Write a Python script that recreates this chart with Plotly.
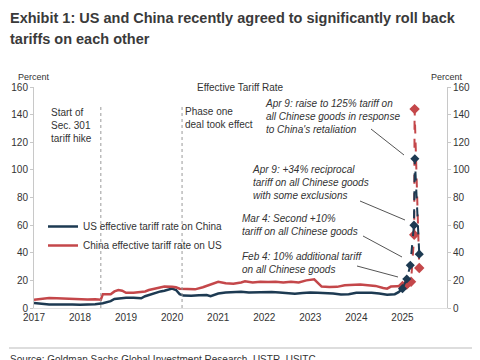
import plotly.graph_objects as go

# ---------------- data ----------------
us_dates = ["2017-01-01","2017-03-01","2017-05-01","2017-07-01","2017-09-01","2017-11-01",
            "2018-01-01","2018-03-01","2018-05-01","2018-07-01","2018-08-01","2018-09-01","2018-10-01","2018-11-01",
            "2019-01-01","2019-03-01","2019-05-01","2019-06-01","2019-07-01","2019-09-01","2019-10-01","2019-11-01",
            "2020-01-01","2020-02-01","2020-03-01","2020-04-01","2020-06-01","2020-08-01","2020-10-01","2020-11-01",
            "2021-01-01","2021-03-01","2021-05-01","2021-07-01","2021-09-01","2021-11-01",
            "2022-01-01","2022-03-01","2022-05-01","2022-07-01","2022-09-01","2022-11-01",
            "2023-01-01","2023-03-01","2023-05-01","2023-07-01","2023-09-01","2023-11-01",
            "2024-01-01","2024-03-01","2024-05-01","2024-07-01","2024-09-01","2024-11-01","2024-12-01","2025-01-01"]
us_rate = [3.6,3.0,2.5,2.6,2.7,2.5,
           2.3,2.5,2.8,3.5,4.0,5.0,6.5,7.0,
           7.5,7.5,7.0,8.5,9.5,11.5,12.0,12.5,
           14.0,13.0,10.0,9.0,8.8,9.3,9.4,8.5,
           10.5,11.2,11.5,11.8,11.3,11.5,
           11.8,11.5,11.3,11.0,10.4,10.8,
           11.3,11.0,10.8,10.5,9.8,10.0,
           11.0,11.2,11.0,10.5,9.6,10.0,11.5,14.0]

cn_dates = ["2017-01-01","2017-03-01","2017-05-01","2017-07-01","2017-09-01","2017-11-01",
            "2018-01-01","2018-03-01","2018-05-01","2018-06-15","2018-07-01","2018-08-01","2018-09-01","2018-10-01","2018-11-01","2018-12-01",
            "2019-01-01","2019-03-01","2019-05-01","2019-06-01","2019-07-01","2019-09-01","2019-10-01","2019-11-01",
            "2020-01-01","2020-02-01","2020-03-01","2020-05-01","2020-07-01","2020-09-01","2020-11-01",
            "2021-01-01","2021-03-01","2021-05-01","2021-07-01","2021-08-01","2021-10-01","2021-12-01",
            "2022-02-01","2022-04-01","2022-06-01","2022-08-01","2022-10-01","2022-12-01",
            "2023-02-01","2023-03-01","2023-04-01","2023-06-01","2023-08-01","2023-10-01","2023-12-01",
            "2024-02-01","2024-04-01","2024-06-01","2024-08-01","2024-09-01","2024-10-01","2024-12-01","2025-01-01"]
cn_rate = [6.0,6.8,7.2,7.0,6.8,6.5,
           6.0,6.2,6.3,6.0,10.0,10.2,10.0,12.0,13.0,12.5,
           11.0,11.0,11.5,12.0,13.0,14.0,14.5,15.5,
           15.3,15.0,14.0,13.8,13.5,15.0,17.0,
           19.0,18.0,17.5,18.5,19.3,18.5,19.0,
           18.8,19.0,18.5,19.0,18.5,20.0,
           20.8,18.5,15.5,15.2,15.3,16.5,17.0,
           17.0,16.5,16.0,14.5,14.0,15.5,15.5,16.0]

# 2025 escalation (dashed with markers)
us_tail_dates = ["2025-01-01","2025-02-04","2025-03-04","2025-04-02","2025-04-09","2025-05-14"]
us_tail_rate = [14.0,21.0,31.0,60.0,108.0,39.0]
cn_tail_dates = ["2025-01-01","2025-02-04","2025-02-12","2025-03-10","2025-04-04","2025-04-07","2025-05-14"]
cn_tail_rate = [16.0,17.0,18.0,19.0,53.0,144.0,29.0]

event_dates = ["2018-06-15", "2020-03-20"]

NAVY = "#1d3a52"
RED = "#c4474a"
FONT = "Liberation Sans, Arial, sans-serif"
TXT = "#333333"

# plot area in screen pixels (page body has an 8px margin)
OFF = 8
L, R, T, B = 34, 447, 87, 308
def px(x):
    return (x - L) / (R - L)
def py(y):
    return (B - y) / (B - T)

fig = go.Figure()
fig.add_trace(go.Scatter(x=us_dates, y=us_rate, mode="lines", name="US effective tariff rate on China",
                         line=dict(color=NAVY, width=2.5)))
fig.add_trace(go.Scatter(x=cn_dates, y=cn_rate, mode="lines", name="China effective tariff rate on US",
                         line=dict(color=RED, width=2.5)))
fig.add_trace(go.Scatter(x=cn_tail_dates, y=cn_tail_rate, mode="lines+markers", showlegend=False,
                         line=dict(color=RED, width=2, dash="dash"),
                         marker=dict(symbol="diamond", size=8, color=RED)))
fig.add_trace(go.Scatter(x=us_tail_dates, y=us_tail_rate, mode="lines+markers", showlegend=False,
                         line=dict(color=NAVY, width=2, dash="dash"),
                         marker=dict(symbol="diamond", size=7, color=NAVY)))
# right axis (mirror)
fig.add_trace(go.Scatter(x=[us_dates[0]], y=[0], yaxis="y2", mode="markers", showlegend=False,
                         marker=dict(opacity=0), hoverinfo="skip"))

shapes = []
for d in event_dates:
    shapes.append(dict(type="line", xref="x", yref="paper", x0=d, x1=d, y0=0, y1=py(104),
                       line=dict(color="#9a9a9a", width=1, dash="dot")))

leaders = [((371, 129), (404, 155)), ((360, 201), (405, 220)),
           ((363, 236), (402, 257)), ((357, 266), (398, 277))]
for (x0, y0), (x1, y1) in leaders:
    shapes.append(dict(type="line", xref="paper", yref="paper", x0=px(x0), y0=py(y0), x1=px(x1), y1=py(y1),
                       line=dict(color="#555555", width=1)))
shapes.append(dict(type="line", xref="paper", yref="paper", x0=px(9), x1=px(473), y0=py(348), y1=py(348),
                   line=dict(color="#bbbbbb", width=1)))

ann = []
def text(x, y, s, size=10, xanchor="left", yanchor="top", italic=False, color=TXT, bold=False):
    ann.append(dict(xref="paper", yref="paper", x=px(x), y=py(y), text=s, showarrow=False,
                    xanchor=xanchor, yanchor=yanchor, align="left" if xanchor == "left" else "center",
                    borderpad=0,
                    font=dict(family=FONT, size=size, color=color,
                              style="italic" if italic else "normal",
                              weight="bold" if bold else "normal")))

text(9, 18, "Exhibit 1: US and China recently agreed to significantly roll back",
     size=14.5, bold=True, color="#3a3a3a", yanchor="middle")
text(9, 39, "tariffs on each other", size=14.5, bold=True, color="#3a3a3a", yanchor="middle")
text(34, 77, "Percent", size=9, xanchor="center", yanchor="middle")
text(447, 77, "Percent", size=9, xanchor="center", yanchor="middle")
text(240, 87, "Effective Tariff Rate", size=10, xanchor="center", yanchor="middle")
text(50, 106, "Start of<br>Sec. 301<br>tariff hike", size=10)
text(184, 105, "Phase one<br>deal took effect", size=10)
text(264, 97, "Apr 9: raise to 125% tariff on<br>all Chinese goods in response<br>to China's retaliation", size=10, italic=True)
text(251, 163, "Apr 9: +34% reciprocal<br>tariff on all Chinese goods<br>with some exclusions", size=10, italic=True)
text(241, 212, "Mar 4: Second +10%<br>tariff on all Chinese goods", size=10, italic=True)
text(241, 250, "Feb 4: 10% additional tariff<br>on all Chinese goods", size=10, italic=True)
text(9, 353, "Source: Goldman Sachs Global Investment Research, USTR, USITC", size=10)

yax = dict(range=[0, 160], dtick=20, showgrid=False, zeroline=False, showline=True, automargin=False,
           linecolor="#c8c8c8", linewidth=1, ticks="outside", ticklen=3, tickcolor="#c8c8c8",
           tickfont=dict(family=FONT, size=10, color=TXT), fixedrange=True)

fig.update_layout(
    width=480, height=360,
    margin=dict(l=L - OFF, r=480 - R + OFF, t=T - OFF, b=360 - B + OFF, pad=0, autoexpand=False),
    paper_bgcolor="white", plot_bgcolor="white",
    showlegend=True,
    legend=dict(x=px(43), y=py(212), xanchor="left", yanchor="top", bgcolor="rgba(0,0,0,0)",
                font=dict(family=FONT, size=10, color=TXT), tracegroupgap=0, itemwidth=30),
    xaxis=dict(type="date", range=["2017-01-01", "2025-12-20"], dtick="M12", tick0="2017-01-01",
               tickformat="%Y", showgrid=False, zeroline=False, showline=True, linecolor="#e0e0e0",
               ticks="", automargin=False, tickfont=dict(family=FONT, size=10, color=TXT)),
    yaxis=yax,
    yaxis2=dict(yax, overlaying="y", side="right", anchor="x"),
    shapes=shapes, annotations=ann,
)

fig.write_html("out.html")
